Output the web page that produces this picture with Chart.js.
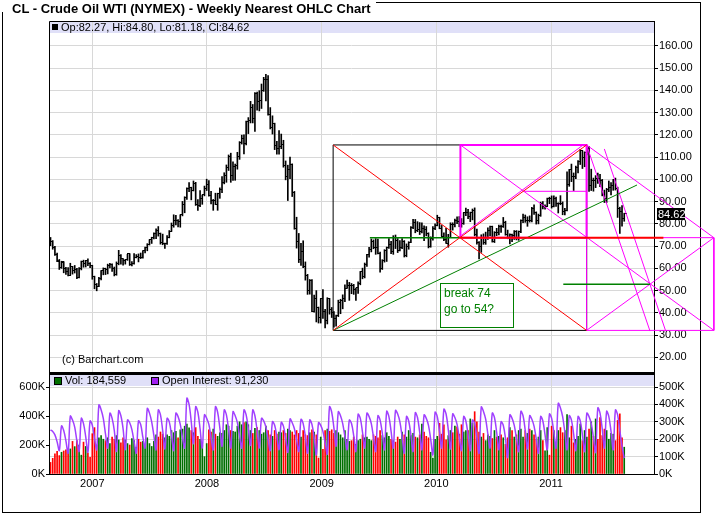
<!DOCTYPE html>
<html>
<head>
<meta charset="utf-8">
<script src="https://cdn.jsdelivr.net/npm/chart.js@4.4.0/dist/chart.umd.min.js"></script>
<style>
html,body{margin:0;padding:0;background:#fff;width:717px;height:514px;overflow:hidden;font-family:"Liberation Sans",Arial,Helvetica,sans-serif;color:#000;}
.abs{position:absolute;}
#frame{left:2px;top:2px;width:699px;height:511px;border:1px solid #000;box-sizing:border-box;}
#titlebox{left:0;top:0;width:376px;height:12px;background:#fff;z-index:5;}
#title{left:12px;top:1px;font-weight:bold;font-size:13px;line-height:15px;white-space:nowrap;}
.hdr{font-size:11px;line-height:13px;white-space:nowrap;z-index:6;}
.sq{width:6px;height:6px;z-index:6;}
#note{border:1px solid #008000;color:#008000;font-size:12px;line-height:16px;padding:1px 0 0 3px;width:74px;height:45px;box-sizing:border-box;z-index:6;background:transparent;}
canvas{position:absolute;left:0;}
</style>
</head>
<body>
<div id="frame" class="abs"></div>
<canvas id="main" width="717" height="373" style="top:0"></canvas>
<canvas id="vol" width="717" height="142" style="top:372px"></canvas>
<div id="titlebox" class="abs"><div id="title" class="abs">CL - Crude Oil WTI (NYMEX) - Weekly Nearest OHLC Chart</div></div>
<div class="abs sq" style="left:52px;top:24px;background:#000"></div>
<div id="ohlcText" class="abs hdr" style="left:61px;top:21px"></div>
<div class="abs hdr" style="left:62px;top:353px">(c) Barchart.com</div>
<div class="abs sq" style="left:54px;top:377px;width:6px;height:6px;background:#006e00;border:1px solid #000"></div>
<div id="volText" class="abs hdr" style="left:65px;top:374px"></div>
<div class="abs sq" style="left:151px;top:377px;width:6px;height:6px;background:#a020f0;border:1px solid #000"></div>
<div id="oiText" class="abs hdr" style="left:162px;top:374px"></div>
<div id="note" class="abs">break 74<br>go to 54?</div>
<script>
// ---------- DATA (weekly, first week starting Mon 2006-08-21) ----------
const opens = [
72.5,72.2,69.3,66.2,63.5,60.5,62.8,59.8,58.6,57.0,
60.8,59.2,59.6,56.0,60.1,63.1,62.0,63.4,62.4,61.1,
56.3,52.9,52.0,55.4,59.0,59.9,59.4,61.4,61.6,60.1,
57.1,62.3,65.9,64.3,63.6,64.1,66.5,61.9,62.4,65.0,
65.2,65.1,64.8,68.0,69.2,70.7,72.8,73.9,75.6,77.0,
75.5,71.5,71.0,71.1,74.0,76.7,79.1,81.6,81.7,81.2,
84.0,88.6,91.9,95.9,96.3,95.1,98.2,88.7,88.3,91.3,
93.3,96.0,97.9,92.7,90.6,90.7,88.9,93.6,95.5,98.8,
101.8,105.2,110.2,101.8,105.6,106.2,110.1,116.7,118.5,116.3,
125.9,126.3,132.2,127.4,138.5,134.9,135.4,140.2,145.1,145.1,
129.3,123.3,125.1,115.2,113.8,114.6,115.5,106.2,101.2,104.6,
106.9,93.9,77.7,71.9,64.2,67.8,61.0,57.0,49.9,54.4,
40.8,46.3,42.4,37.7,46.3,40.8,36.5,46.5,41.7,40.2,
37.5,38.9,44.8,45.5,46.3,51.1,52.4,52.5,52.2,50.3,
51.6,53.2,58.6,56.3,61.7,66.3,68.4,72.0,69.6,69.2,
66.7,59.9,63.6,68.1,69.5,70.9,67.5,73.9,72.7,68.0,
69.3,72.0,66.0,69.9,71.8,78.5,80.5,77.0,77.4,76.4,
77.8,77.3,75.5,69.9,73.4,78.1,79.4,82.8,78.0,74.5,
72.9,71.2,74.1,79.8,79.7,81.5,81.2,80.7,80.0,84.9,
84.9,83.2,85.1,86.2,75.1,71.6,70.0,74.0,71.5,73.8,
77.2,78.9,72.1,76.1,76.0,79.0,78.9,80.7,75.4,73.5,
75.2,74.6,76.5,73.7,76.5,81.6,82.7,81.3,81.7,81.4,
87.0,84.9,81.5,83.8,89.2,88.0,88.0,91.5,91.4,88.0,
91.5,89.1,89.3,89.0,85.6,86.2,97.9,104.4,101.2,101.1,
105.4,107.9,112.8,109.7,112.3,113.9,97.2,99.7,99.5,100.6,
100.2,99.3,93.0,91.2,95.4,96.2,97.2,99.9,95.7,86.9,
85.4,82.27];
const highs = [
73.9,72.5,69.9,66.9,64.0,63.2,63.0,60.5,60.3,62.3,
60.9,61.3,60.0,60.4,63.3,63.7,63.6,64.3,62.6,61.4,
56.5,53.2,56.0,59.0,60.2,60.1,61.9,62.3,62.0,60.6,
62.9,68.1,66.2,64.4,64.0,66.3,66.6,63.0,66.7,66.2,
66.5,66.9,68.0,69.6,71.1,72.9,74.0,76.0,77.8,78.8,
75.9,75.4,71.4,74.7,77.0,80.4,84.1,83.8,81.9,84.1,
90.1,92.2,96.2,98.6,96.5,99.3,98.7,90.9,95.0,93.0,
97.0,100.1,99.5,94.6,91.0,93.8,93.8,96.2,101.3,103.0,
106.5,111.0,111.8,107.9,106.9,112.2,117.0,119.9,120.0,126.2,
127.8,135.1,133.7,139.1,139.3,139.9,142.9,145.9,147.3,146.7,
132.3,128.6,125.3,117.1,122.0,120.4,117.6,108.3,106.4,110.0,
107.0,94.6,83.0,75.7,71.2,72.4,62.9,57.3,55.0,55.0,
48.0,50.0,42.6,46.3,50.5,41.6,46.8,46.5,42.4,40.6,
39.0,45.7,46.1,48.1,52.6,54.7,53.7,53.2,52.8,51.1,
53.9,58.6,60.1,62.4,66.3,69.5,73.2,72.8,73.4,73.2,
67.3,63.9,68.4,69.6,73.4,72.2,74.7,75.0,73.4,72.5,
73.4,72.5,71.0,72.0,78.8,82.0,82.0,81.0,80.6,80.5,
79.1,78.8,76.0,74.2,78.8,80.0,83.9,83.0,79.3,76.0,
78.0,75.3,80.5,80.5,82.2,83.2,83.3,82.4,85.0,87.1,
86.6,85.3,86.7,87.2,77.7,72.0,75.1,75.5,76.3,78.2,
79.0,79.0,76.5,78.0,79.5,79.5,82.9,81.2,77.2,75.5,
75.4,77.0,77.0,76.8,81.8,84.4,84.0,83.2,83.6,87.5,
88.6,85.4,84.4,89.8,90.0,88.6,91.6,92.0,92.6,92.6,
92.0,89.5,92.7,89.9,87.0,103.4,104.5,106.9,102.9,106.0,
108.5,113.5,112.9,112.4,114.8,114.8,104.6,100.6,101.7,102.8,
102.3,100.0,95.2,96.0,99.3,98.6,100.0,100.6,96.5,87.5,
88.2,84.80];
const lows = [
70.2,68.6,65.8,63.0,59.5,60.0,58.0,57.3,56.6,56.9,
57.4,57.9,55.4,55.7,59.3,60.5,60.6,61.2,60.3,55.1,
50.8,49.9,51.8,54.8,57.1,57.2,57.5,60.2,58.6,56.6,
56.9,61.6,61.9,61.4,61.9,63.6,61.3,61.1,61.9,64.7,
62.9,64.4,64.6,66.9,67.9,70.5,71.2,73.2,73.3,74.5,
70.9,70.6,69.0,70.8,73.7,76.6,78.5,79.5,78.6,78.5,
83.6,85.0,91.0,94.5,90.8,94.8,88.3,86.0,87.7,88.8,
92.6,95.0,92.5,89.0,86.1,88.7,86.1,91.5,94.0,98.0,
98.7,104.0,98.7,99.6,99.6,104.6,109.0,115.9,111.5,115.5,
120.6,125.4,125.4,121.6,131.1,130.8,131.9,139.6,135.3,128.9,
122.7,120.4,113.4,111.3,111.3,113.8,105.5,99.8,90.5,100.3,
92.3,77.6,69.1,62.6,61.3,60.3,54.7,48.3,48.4,40.5,
40.3,35.9,35.4,35.4,37.5,33.2,35.0,39.4,37.9,33.6,
34.0,38.3,39.6,41.8,45.0,51.0,45.6,48.6,48.3,45.6,
48.7,52.6,55.3,55.7,60.9,65.0,67.4,68.8,66.3,66.5,
58.3,59.5,62.8,63.1,69.0,66.6,66.3,68.9,67.1,67.8,
68.8,65.1,65.2,68.6,71.5,77.9,76.0,76.5,75.2,75.9,
72.4,74.6,69.2,69.5,72.7,77.4,79.1,77.8,74.5,72.4,
71.2,69.5,73.9,77.2,78.6,80.1,78.7,78.5,79.8,83.7,
82.4,81.0,81.8,74.6,70.9,64.2,67.2,70.8,70.8,73.0,
74.6,71.8,71.6,74.7,75.0,76.2,78.4,74.9,73.3,71.0,
72.0,73.0,72.8,72.6,76.0,80.5,80.7,78.9,80.8,80.9,
84.2,79.9,80.0,83.4,86.7,86.6,88.0,89.1,87.1,87.6,
87.9,84.9,88.6,84.1,84.0,85.8,96.9,99.0,95.0,100.3,
102.9,106.7,104.9,105.7,111.0,94.6,95.0,94.7,96.3,98.2,
96.7,92.6,89.6,89.6,94.5,93.0,95.1,95.2,82.9,75.7,
79.0,81.18];
const closes = [
72.2,69.3,66.3,63.3,60.6,62.9,59.8,58.6,56.8,60.8,
59.1,59.6,56.0,60.1,63.1,62.0,63.4,62.4,61.1,56.3,
52.9,52.0,55.4,59.0,59.9,59.4,61.4,61.6,60.1,57.1,
62.3,65.9,64.3,63.6,64.1,66.5,61.9,62.4,65.0,65.2,
65.1,64.8,68.0,69.2,70.7,72.8,73.9,75.6,77.0,75.5,
71.5,71.0,71.1,74.0,76.7,79.1,81.6,81.7,81.2,84.0,
88.6,91.9,95.9,96.3,95.1,98.2,88.7,88.3,91.3,93.3,
96.0,97.9,92.7,90.6,90.7,88.9,93.6,95.5,98.8,101.8,
105.2,110.2,101.8,105.6,106.2,110.1,116.7,118.5,116.3,125.9,
126.3,132.2,127.4,138.5,134.9,135.4,140.2,145.1,145.1,129.3,
123.3,125.1,115.2,113.8,114.6,115.5,106.2,101.2,104.6,106.9,
93.9,77.7,71.9,64.2,67.8,61.0,57.0,49.9,54.4,40.8,
46.3,42.4,37.7,46.3,40.8,36.5,46.5,41.7,40.2,37.5,
38.9,44.8,45.5,46.3,51.1,52.4,52.5,52.2,50.3,51.6,
53.2,58.6,56.3,61.7,66.3,68.4,72.0,69.6,69.2,66.7,
59.9,63.6,68.1,69.5,70.9,67.5,73.9,72.7,68.0,69.3,
72.0,66.0,69.9,71.8,78.5,80.5,77.0,77.4,76.4,77.8,
77.3,75.5,69.9,73.4,78.1,79.4,82.8,78.0,74.5,72.9,
71.2,74.1,79.8,79.7,81.5,81.2,80.7,80.0,84.9,84.9,
83.2,85.1,86.2,75.1,71.6,70.0,74.0,71.5,73.8,77.2,
78.9,72.1,76.1,76.0,79.0,78.9,80.7,75.4,73.5,75.2,
74.6,76.5,73.7,76.5,81.6,82.7,81.3,81.7,81.4,87.0,
84.9,81.5,83.8,89.2,88.0,88.0,91.5,91.4,88.0,91.5,
89.1,89.3,89.0,85.6,86.2,97.9,104.4,101.2,101.1,105.4,
107.9,112.8,109.7,112.3,113.9,97.2,99.7,99.5,100.6,100.2,
99.3,93.0,91.2,95.4,96.2,97.2,99.9,95.7,86.9,85.4,
82.3,84.62];
// weekly volume, thousands of contracts
const volumesK = [
80,108,140,157,127,150,159,166,161,173,225,189,230,200,130,220,190,145,115,278,320,200,250,265,
240,230,250,210,255,240,265,235,215,250,235,210,200,245,230,185,240,220,225,205,250,210,190,225,270,255,
290,275,250,270,260,300,285,295,250,305,310,330,345,318,300,285,320,260,240,200,120,
210,305,290,310,275,260,285,280,300,340,330,300,295,290,330,360,340,355,360,340,
300,280,315,320,300,275,285,330,300,270,260,300,275,290,285,300,280,310,300,290,
270,300,280,255,300,270,265,285,305,290,270,110,255,
170,300,310,295,305,280,300,285,270,250,300,240,225,230,255,205,230,240,270,250,
255,240,230,270,260,250,300,265,250,285,260,240,230,220,255,240,290,270,255,300,
265,280,255,250,270,345,290,260,250,150,110,240,
260,350,275,340,235,265,300,285,330,325,275,340,290,300,300,380,350,430,360,290,
255,280,230,270,260,245,300,255,260,270,250,205,250,320,300,255,270,300,310,255,
300,280,310,300,270,240,255,300,230,160,320,130,
330,300,200,300,320,285,300,410,250,330,215,240,260,345,230,300,255,310,360,260,
380,240,390,265,310,300,240,280,275,230,370,415,250,185];
// weekly open interest (nearest contract), thousands
const openInterestK = [
253,245,225,185,135, 276,250,190,120, 333,310,270,190,130, 320,290,215,125, 305,280,205,140,
397,370,320,230,150, 349,320,250,130, 364,335,260,140, 310,295,255,185,120, 305,285,210,150,
377,350,300,220,140, 368,340,250,145, 320,300,225,135, 350,330,285,210,150, 435,400,300,175,
387,355,260,150, 340,320,285,210,140, 387,355,265,160, 368,340,255,150, 358,335,295,220,150,
368,340,260,165, 368,335,250,150, 320,305,270,200,135, 301,280,215,140, 297,275,205,125,
316,295,260,195,130, 314,290,215,120, 310,285,210,110, 295,280,245,180,115, 387,355,265,160,
358,335,290,215,140, 310,290,220,130, 343,320,240,150, 350,330,290,210,130, 335,310,235,140,
360,330,245,150, 365,345,300,215,120, 330,305,225,130, 352,325,240,140, 340,320,280,200,110,
355,330,245,150, 372,345,255,145, 345,325,285,210,135, 330,305,225,135, 310,290,210,120,
385,360,315,230,150, 350,325,240,140, 300,280,205,95, 340,320,280,205,130, 360,335,250,145,
335,315,275,200,120, 330,305,225,140, 345,320,240,150, 406,380,330,240,140, 335,310,230,135,
330,305,225,130, 350,330,290,210,125, 380,350,260,150, 360,330,245,140, 368,340,250,160, 91];
const lastVolume = 184559;
const lastOpenInterest = 91230;

// axis ticks
const yearTicks = [2007, 2008, 2009, 2010, 2011];
const priceTicks = [20,30,40,50,60,70,80,90,100,110,120,130,140,150,160];
const volTicksK = [0, 200, 400, 600];
const oiTicksK = [0, 100, 200, 300, 400, 500];

// drawn study (decimal year, price)
const boxYears = [2009.10, 2010.21, 2011.31, 2012.42];
const boxPrices = [32.1, 73.8, 115.5];
const trendEnd = [2011.75, 97.5];
const supportStartYear = 2009.42;
const redLevelEndYear = 2011.98;
const midLine = [2010.76, 94.65];
const steepA = [[2011.31, 115.5], [2011.863, 31.8]];
const steepB = [[2011.465, 113.7], [2012.0, 31.8]];
const targetLine = [2011.107, 2011.863, 52.8];
const noteAt = [2010.032, 53.4];

// ---------- CHART ----------
const FONT = '"Liberation Sans", Arial, Helvetica, sans-serif';
Chart.defaults.font.family = FONT;
Chart.defaults.font.size = 11;
Chart.defaults.color = '#000';
Chart.defaults.animation = false;

const GRID = '#d8d8d8';
const RED = '#ff0000', GREEN = '#008000', MAG = '#ff00ff';
const X_MIN = 2006.6224, X_MAX = 2011.898;
const MAIN_AREA_BOTTOM = 372;

function decYear(ms) {
  const d = new Date(ms); const y = d.getUTCFullYear();
  const s = Date.UTC(y, 0, 1), e = Date.UTC(y + 1, 0, 1);
  return y + (ms - s) / (e - s);
}
const weekX = opens.map((_, i) => decYear(Date.UTC(2006, 7, 21 + 7 * i)));
const last = opens.length - 1;

document.getElementById('ohlcText').textContent =
  'Op:' + opens[last].toFixed(2) + ', Hi:' + highs[last].toFixed(2) +
  ', Lo:' + lows[last].toFixed(2) + ', Cl:' + closes[last].toFixed(2);
document.getElementById('volText').textContent = 'Vol: ' + lastVolume.toLocaleString('en-US');
document.getElementById('oiText').textContent = 'Open Interest: ' + lastOpenInterest.toLocaleString('en-US');

function tickImage(side) {
  const c = document.createElement('canvas'); c.width = 5; c.height = 1;
  const g = c.getContext('2d'); g.fillStyle = '#000';
  g.fillRect(side < 0 ? 0 : 3, 0, 2, 1);
  return c;
}
function seg(points, color, width) {
  return {type: 'line', data: points.map(p => ({x: p[0], y: p[1]})), borderColor: color,
    borderWidth: width, pointRadius: 0, pointHoverRadius: 0, fill: false, clip: false, tension: 0, order: 0};
}
const [X0, X1, X2, X3] = boxYears;
const [Y0, Y1, Y2] = boxPrices;
const studyLines = [
  seg([[X0, Y2], [X2, Y0]], RED, 1),
  seg([[X0, Y0], [X2, Y2]], RED, 1),
  seg([[X1, Y1], [redLevelEndYear, Y1]], RED, 2),
  seg([[X0, Y0], trendEnd], GREEN, 1),
  seg([[supportStartYear, Y1], [X1, Y1]], GREEN, 1.5),
  seg([[targetLine[0], targetLine[2]], [targetLine[1], targetLine[2]]], GREEN, 1.5),
  seg([[X1, Y1], [X1, Y2], [X2, Y2], [X2, Y1], [X1, Y1]], MAG, 2),
  seg([[X1, Y2], [X3, Y0]], MAG, 1),
  seg([[X1 - 0.02, Y1], [X2 - 0.03, Y2]], MAG, 1),
  seg([midLine, [X2, midLine[1]]], MAG, 1),
  seg([[X2, Y0], [X2, Y1], [X3, Y1], [X3, Y0], [X2, Y0]], MAG, 1),
  seg([[X2, Y0], [X3, Y1]], MAG, 1),
  seg([[X2, Y2], [X3, Y1]], MAG, 1),
  seg(steepA, MAG, 1),
  seg(steepB, MAG, 1),
  seg([[X0, Y0], [X0, Y2], [X2, Y2], [X2, Y0], [X0, Y0]], '#000', 1)
];

const panelPlugin = {
  id: 'panel',
  beforeDraw(chart, args, opts) {
    const a = chart.chartArea, ctx = chart.ctx;
    ctx.save(); ctx.fillStyle = '#e0e0f8';
    ctx.fillRect(a.left, a.top, a.right - a.left, 12);
    ctx.restore();
  },
  afterDraw(chart, args, opts) {
    const a = chart.chartArea, ctx = chart.ctx;
    ctx.save();
    ctx.strokeStyle = '#000'; ctx.lineWidth = 1;
    ctx.beginPath();
    ctx.moveTo(a.left + 0.5, a.bottom); ctx.lineTo(a.left + 0.5, a.top + 0.5); ctx.lineTo(a.right + 0.5, a.top + 0.5);
    ctx.stroke();
    if (opts.separator) { ctx.fillStyle = '#000'; ctx.fillRect(a.left, 0, a.right - a.left + 1, 2); }
    if (opts.lastLabel) {
      const y = chart.scales.y.getPixelForValue(closes[last]);
      ctx.fillStyle = '#000'; ctx.fillRect(a.right + 3, Math.round(y) - 6, 28, 12);
      ctx.fillStyle = '#fff'; ctx.font = '11px ' + FONT; ctx.textBaseline = 'middle';
      ctx.fillText(closes[last].toFixed(2), a.right + 4, Math.round(y) + 0.5);
    }
    ctx.restore();
  }
};

const yearAxisTicks = s => { s.ticks = yearTicks.map(v => ({value: v})); };
const noPad = w => s => { s.width = w; s.paddingTop = 0; s.paddingBottom = 0; };

const mainCanvas = document.getElementById('main');
const mainChart = new Chart(mainCanvas, {
  type: 'bar',
  data: {
    datasets: [
      ...studyLines,
      {type: 'scatter', data: weekX.map((x, i) => ({x, y: opens[i]})), pointStyle: tickImage(-1), pointRadius: 1, order: 5},
      {type: 'scatter', data: weekX.map((x, i) => ({x, y: closes[i]})), pointStyle: tickImage(1), pointRadius: 1, order: 5},
      {type: 'bar', data: weekX.map((x, i) => ({x, y: [lows[i], highs[i]]})), backgroundColor: '#000',
       barThickness: 1, grouped: false, order: 6}
    ]
  },
  options: {
    responsive: false,
    maintainAspectRatio: false,
    animation: false,
    events: [],
    layout: {padding: {left: 49, top: 21, right: 0, bottom: 1}},
    plugins: {legend: {display: false}, tooltip: {enabled: false}, panel: {lastLabel: true}},
    scales: {
      x: {type: 'linear', min: X_MIN, max: X_MAX, offset: false,
          afterBuildTicks: yearAxisTicks,
          ticks: {display: false},
          grid: {color: GRID, drawTicks: false, offset: false},
          border: {display: false},
          afterFit: s => { s.height = 0; s.paddingLeft = 0; s.paddingRight = 0; s.paddingTop = 0; s.paddingBottom = 0; }},
      y: {type: 'linear', position: 'right', min: 13.39, max: 171.24, beginAtZero: false,
          afterBuildTicks: s => { s.ticks = priceTicks.map(v => ({value: v})); },
          ticks: {callback: v => Number(v).toFixed(2), padding: 1, font: {size: 11}},
          grid: {color: GRID, tickColor: '#000', tickLength: 4},
          border: {color: '#000'},
          afterFit: noPad(63)}
    }
  },
  plugins: [panelPlugin]
});
// make the plot area end exactly at the panel separator
const shortfall = Math.round(MAIN_AREA_BOTTOM - mainChart.chartArea.bottom);
if (shortfall !== 0) {
  mainCanvas.style.height = (373 + shortfall) + 'px';
  mainChart.resize(717, 373 + shortfall);
}

const volColors = closes.map((c, i) => c >= opens[i] ? '#006e00' : '#ff0000');
new Chart(document.getElementById('vol'), {
  type: 'bar',
  data: {
    datasets: [
      {type: 'line', data: weekX.map((x, i) => ({x, y: openInterestK[i]})), yAxisID: 'yo',
       borderColor: '#a040ff', borderWidth: 1.5, pointRadius: 0, tension: 0.35, fill: false, order: 0},
      {type: 'bar', data: weekX.map((x, i) => ({x, y: volumesK[i]})), yAxisID: 'yv',
       backgroundColor: volColors, barThickness: 1, grouped: false, order: 1}
    ]
  },
  options: {
    responsive: false,
    animation: false,
    events: [],
    layout: {padding: {left: 0, top: 2, right: 0, bottom: 0}},
    plugins: {legend: {display: false}, tooltip: {enabled: false}, panel: {separator: true}},
    scales: {
      x: {type: 'linear', min: X_MIN, max: X_MAX, offset: false,
          afterBuildTicks: yearAxisTicks,
          ticks: {callback: v => String(v), padding: 3, maxRotation: 0, autoSkip: false, font: {size: 11}},
          grid: {color: GRID, drawTicks: false, offset: false},
          border: {color: '#000'},
          afterFit: s => { s.height = 40; s.paddingLeft = 0; s.paddingRight = 0; }},
      yv: {type: 'linear', position: 'left', min: 0, max: 690, beginAtZero: true,
          afterBuildTicks: s => { s.ticks = volTicksK.map(v => ({value: v})); },
          ticks: {callback: v => v + 'K', padding: 1},
          grid: {drawOnChartArea: false, tickColor: '#000', tickLength: 3},
          border: {color: '#000'},
          afterFit: noPad(49)},
      yo: {type: 'linear', position: 'right', min: 0, max: 575, beginAtZero: true,
          afterBuildTicks: s => { s.ticks = oiTicksK.map(v => ({value: v})); },
          ticks: {callback: v => v + 'K', padding: 1},
          grid: {color: GRID, tickColor: '#000', tickLength: 4},
          border: {color: '#000'},
          afterFit: noPad(63)}
    }
  },
  plugins: [panelPlugin]
});

// place the note box through the price scales
const note = document.getElementById('note');
note.style.left = Math.round(mainChart.scales.x.getPixelForValue(noteAt[0])) + 'px';
note.style.top = Math.round(mainChart.scales.y.getPixelForValue(noteAt[1])) + 'px';
</script>
</body>
</html>
